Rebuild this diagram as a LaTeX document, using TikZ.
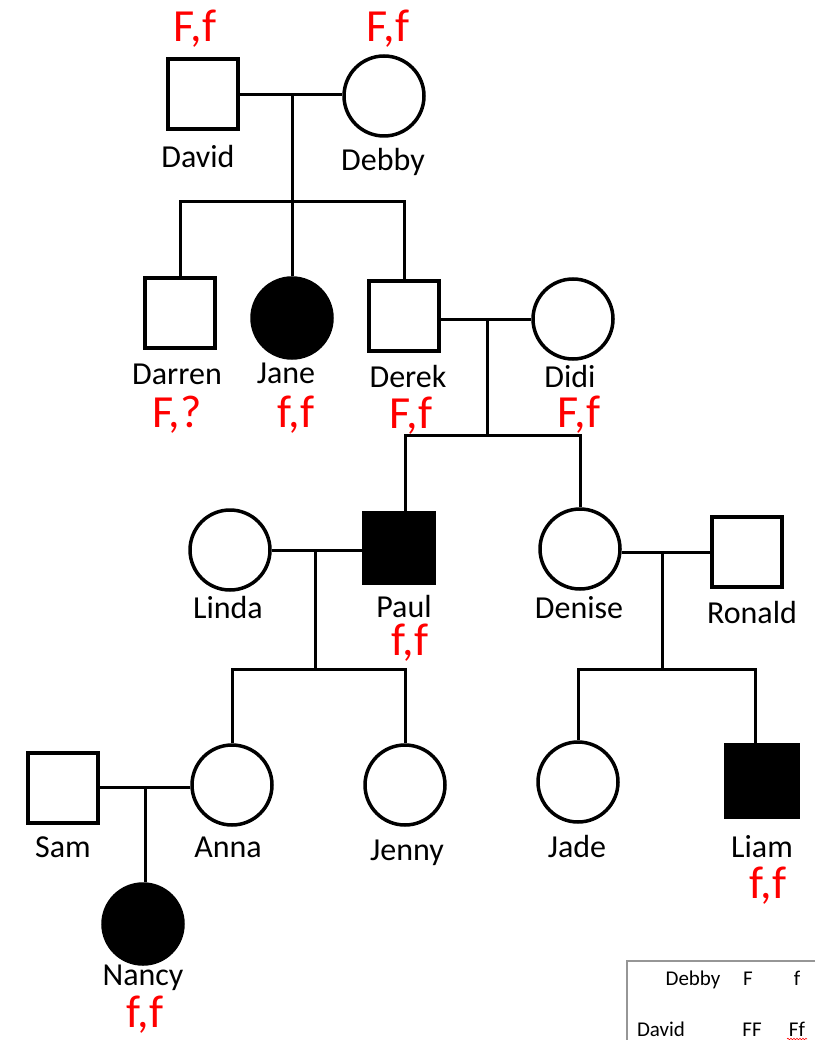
\documentclass[tikz,border=0pt]{standalone}
\usepackage{fontspec}
\setmainfont{Carlito}
\usetikzlibrary{decorations.pathmorphing}
\definecolor{gred}{RGB}{255,0,0}
\definecolor{tablegray}{RGB}{150,150,150}
\begin{document}
\begin{tikzpicture}[x=1pt,y=-1pt,
  male/.style={draw, rectangle, line width=3.5pt, minimum size=70pt, inner sep=0pt, fill=white},
  female/.style={draw, circle, line width=3.5pt, minimum size=80pt, inner sep=0pt, fill=white},
  aff/.style={fill=black},
  pname/.style={font=\fontsize{32}{32}\selectfont, inner sep=0pt, anchor=base},
  geno/.style={font=\fontsize{46}{46}\selectfont, text=gred, inner sep=0pt, anchor=base},
  tabtext/.style={font=\fontsize{21}{21}\selectfont, inner sep=0pt, anchor=base},
  link/.style={line width=3pt},
]
\useasboundingbox (0,0) rectangle (815,1040);

% Generation I
\node[male]   (david) at (203,94) {};
\node[female] (debby) at (384,96) {};
\node[pname] (davidN) at (198,168) {David};
\node[pname] (debbyN) at (383,171) {Debby};
\node[geno]  (davidG) at (195,42) {F,f};
\node[geno]  (debbyG) at (388,42) {F,f};

% Generation II
\node[male]        (darren) at (180,313) {};
\node[female, aff] (jane)   at (292,318) {};
\node[male]        (derek)  at (404,316) {};
\node[female]      (didi)   at (573,319) {};
\node[pname] (darrenN) at (177,384) {Darren};
\node[pname] (janeN)   at (286,383) {Jane};
\node[pname] (derekN)  at (408,387) {Derek};
\node[pname] (didiN)   at (570,387) {Didi};
\node[geno]  (darrenG) at (177,427) {F,?};
\node[geno]  (janeG)   at (296,427) {f,f};
\node[geno]  (derekG)  at (411,428) {F,f};
\node[geno]  (didiG)   at (579,427) {F,f};

% Generation III
\node[female]    (linda)  at (230,550) {};
\node[male, aff] (paul)   at (399,548) {};
\node[female]    (denise) at (580,549) {};
\node[male]      (ronald) at (747,552) {};
\node[pname] (lindaN)  at (228,618) {Linda};
\node[pname] (paulN)   at (404,617) {Paul};
\node[pname] (deniseN) at (579,618) {Denise};
\node[pname] (ronaldN) at (752,623) {Ronald};
\node[geno]  (paulG)   at (410,655) {f,f};

% Generation IV
\node[male]      (sam)   at (63,788) {};
\node[female]    (anna)  at (232,785) {};
\node[female]    (jenny) at (405,785) {};
\node[female]    (jade)  at (578,782) {};
\node[male, aff, minimum size=72pt] (liam) at (762,781) {};
\node[pname] (samN)   at (63,857) {Sam};
\node[pname] (annaN)  at (228,857) {Anna};
\node[pname] (jennyN) at (407,860) {Jenny};
\node[pname] (jadeN)  at (577,857) {Jade};
\node[pname] (liamN)  at (762,857) {Liam};
\node[geno]  (liamG)  at (768,898) {f,f};

% Generation V
\node[female, aff] (nancy) at (143,924) {};
\node[pname] (nancyN) at (143,985) {Nancy};
\node[geno]  (nancyG) at (145,1027) {f,f};

% Couples and sibships
\coordinate (m1) at (292,95);
\coordinate (s1) at (292,202);
\draw[link] (david.east |- m1) -- (debby.west |- m1);
\draw[link] (m1) -- (s1);
\draw[link] (darren.north) |- (s1) -| (derek.north);
\draw[link] (s1) -- (jane.north);

\coordinate (m2) at (487,319);
\coordinate (s2) at (487,435);
\draw[link] (derek.east |- m2) -- (didi.west |- m2);
\draw[link] (m2) -- (s2);
\draw[link] (paul.north -| 405,0) |- (s2) -| (denise.north);

\coordinate (m3) at (315,550);
\coordinate (s3) at (315,669);
\draw[link] (linda.east |- m3) -- (paul.west |- m3);
\draw[link] (m3) -- (s3);
\draw[link] (anna.north) |- (s3) -| (jenny.north);

\coordinate (m4) at (662,552);
\coordinate (s4) at (662,669);
\draw[link] (denise.east |- m4) -- (ronald.west |- m4);
\draw[link] (m4) -- (s4);
\draw[link] (jade.north) |- (s4) -| (liam.north -| 755,0);

\coordinate (m5) at (145,787);
\draw[link] (sam.east |- m5) -- (anna.west |- m5);
\draw[link] (m5) -- (m5 |- nancy.north);

% Punnett square corner
\coordinate (tc) at (627,961);
\draw[tablegray, line width=1.5pt] (815,961) -- (tc) -- (627,1040);
\node[tabtext] (tDebby) at (693,985) {Debby};
\node[tabtext] (tF)     at (748,985) {F};
\node[tabtext] (tf)     at (797,985) {f};
\node[tabtext] (tDavid) at (661,1036) {David};
\node[tabtext] (tFF)    at (752,1036) {FF};
\node[tabtext] (tFf)    at (797,1036) {Ff};
\draw[gred, line width=0.6pt, decorate, decoration={snake, amplitude=0.8pt, segment length=3pt}]
  (787,1039) -- (807,1039);
\end{tikzpicture}
\end{document}
